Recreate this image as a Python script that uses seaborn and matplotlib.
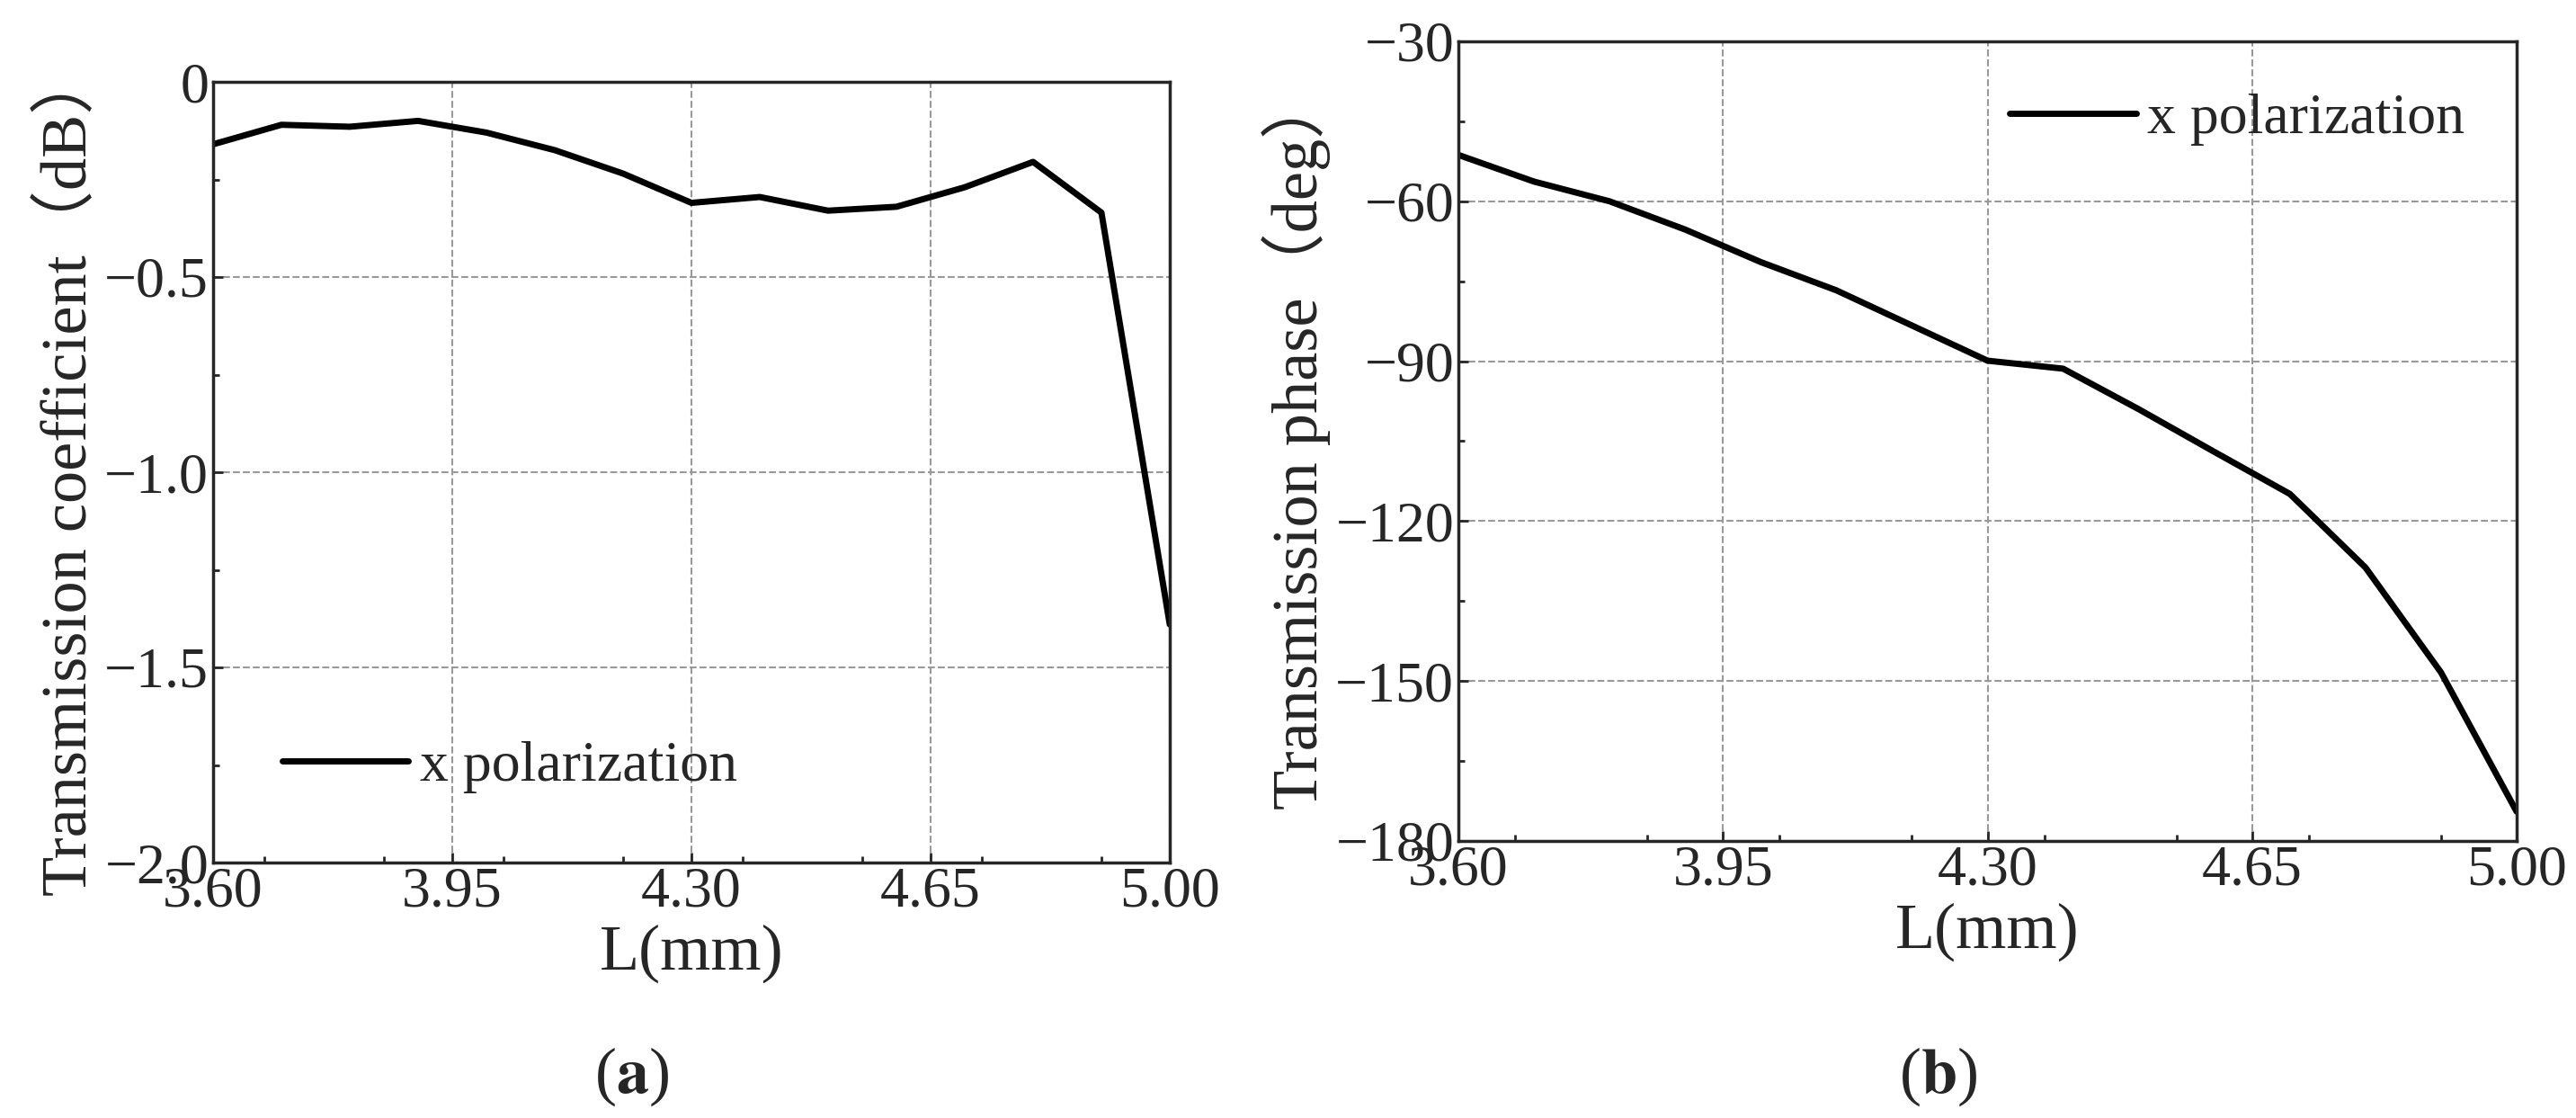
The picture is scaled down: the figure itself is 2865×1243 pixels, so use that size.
import matplotlib
matplotlib.use("Agg")
import matplotlib.pyplot as plt
import seaborn as sns
import pandas as pd
from matplotlib.ticker import MultipleLocator

# Data
L_MM = [3.6, 3.7, 3.8, 3.9, 4.0, 4.1, 4.2, 4.3, 4.4, 4.5, 4.6, 4.7, 4.8, 4.9, 5.0]
COEFF_DB = [-0.16, -0.11, -0.115, -0.10, -0.13, -0.175, -0.235, -0.31, -0.295,
            -0.33, -0.32, -0.27, -0.205, -0.335, -1.39]
PHASE_DEG = [-51.3, -56.3, -60.0, -65.3, -71.4, -76.7, -83.3, -89.9, -91.4,
             -99.0, -107.0, -114.9, -128.7, -148.4, -174.5]
X_TICKS = [3.60, 3.95, 4.30, 4.65, 5.00]

sns.set_style("ticks")
plt.rcParams["font.family"] = ["Liberation Serif", "Noto Sans CJK SC"]
plt.rcParams["mathtext.fontset"] = "stix"
FS = 46
LFS = 52

df = pd.DataFrame({"L": L_MM, "coeff": COEFF_DB, "phase": PHASE_DEG})

W, H = 2865, 1243
fig = plt.figure(figsize=(W / 100, H / 100), dpi=100)
ax_a = fig.add_axes([237 / W, 1 - 959 / H, 1064 / W, 868 / H])
ax_b = fig.add_axes([1622 / W, 1 - 935 / H, 1177 / W, 889 / H])


def style(ax, ylim, ymajor, ylabel):
    ax.set_xlim(3.6, 5.0)
    ax.set_ylim(*ylim)
    ax.set_xticks(X_TICKS)
    ax.set_xticklabels([f"{v:.2f}" for v in X_TICKS])
    ax.xaxis.set_minor_locator(MultipleLocator(0.175))
    ax.yaxis.set_major_locator(MultipleLocator(ymajor))
    ax.yaxis.set_minor_locator(MultipleLocator(ymajor / 2))
    ax.tick_params(which="both", direction="in", labelsize=FS, width=2)
    ax.tick_params(which="major", length=8)
    ax.tick_params(which="minor", length=5)
    ax.grid(True, which="major", linestyle="--", color="#999999", linewidth=1.5)
    for sp in ax.spines.values():
        sp.set_linewidth(2.5)
    ax.set_xlabel("L(mm)", fontsize=LFS, labelpad=4)
    ax.set_ylabel(ylabel, fontsize=LFS, labelpad=4)


sns.lineplot(data=df, x="L", y="coeff", ax=ax_a, color="black", linewidth=5,
             label="x polarization")
style(ax_a, (-2.0, 0.0), 0.5, "Transmission coefficient（dB）")
ax_a.set_yticklabels([f"{v:.1f}".replace("-", "\u2212") if v != 0 else "0"
                      for v in ax_a.get_yticks()])
ax_a.legend(loc="lower left", fontsize=FS, frameon=False, handlelength=2.2,
            handletextpad=0.2, borderaxespad=0.8)

sns.lineplot(data=df, x="L", y="phase", ax=ax_b, color="black", linewidth=5,
             label="x polarization")
style(ax_b, (-180, -30), 30, "Transmission phase（deg）")
ax_b.legend(loc="upper right", fontsize=FS, frameon=False, handlelength=2.2,
            handletextpad=0.2, borderaxespad=0.5)

fig.text(703 / W, 1 - 1197 / H, r"($\mathbf{a}$)", fontsize=LFS, ha="center", va="center")
fig.text(2156 / W, 1 - 1197 / H, r"($\mathbf{b}$)", fontsize=LFS, ha="center", va="center")

fig.savefig("out.png", dpi=100)
